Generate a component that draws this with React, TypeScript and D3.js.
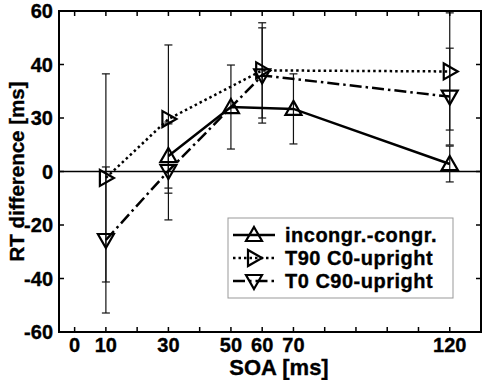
import { select, scaleLinear, line } from "d3";
import { useRef, useEffect } from "react";

// SOA values for each curve
const soaIncongr = [30, 50, 70, 120];
const soaT90 = [10, 30, 60, 120];
const soaT0 = [10, 30, 60, 120];

// mean RT difference and error bar half-length
const incongrMean = [5.8, 24.1, 23.4, 2.8];
const incongrErr = [12, 15.7, 13.1, 6.7];
const t90Mean = [-2.4, 19.6, 37.8, 37.4];
const t90Err = [38.9, 27.7, 17.8, 21.9];
const t0Mean = [-25.6, 0.2, 35.9, 28];
const t0Err = [27.3, 18.3, 17.8, 18.1];

const seriesNames = ["incongr.-congr.", "T90 C0-upright", "T0 C90-upright"];

const xTickValues = [0, 10, 20, 30, 40, 50, 60, 70, 80, 90, 100, 110, 120];
const xTickLabels = [0, 10, 30, 50, 60, 70, 120];
const yTickValues = [-60, -40, -20, 0, 20, 40, 60];
const yTickLabels = ["-60", "-40", "-20", "0", "30", "40", "60"];

const W = 484;
const H = 380;
const FONT = "Liberation Sans, Arial, sans-serif";

const triangles = {
  up: "M0,-8L8,6L-8,6Z",
  right: "M8,0L-6,-8L-6,8Z",
  down: "M0,8L8,-6L-8,-6Z",
};

// bold text with a hair of outline, the original glyphs look heavy
const boldText = (sel, size) =>
  sel
    .attr("font-family", FONT)
    .attr("font-weight", "bold")
    .attr("font-size", size)
    .attr("stroke", "#000")
    .attr("stroke-width", 0.35);

const App = () => {
  const svgRef = useRef(null);

  useEffect(() => {
    const svg = select(svgRef.current);
    svg.selectAll("*").remove();

    const x = scaleLinear().domain([-5, 130]).range([59, 481]);
    const y = scaleLinear().domain([-60, 60]).range([332, 11]);

    const series = [
      { name: seriesNames[0], xs: soaIncongr, ys: incongrMean, err: incongrErr, dash: null, marker: triangles.up },
      { name: seriesNames[1], xs: soaT90, ys: t90Mean, err: t90Err, dash: "2.5 3", marker: triangles.right },
      { name: seriesNames[2], xs: soaT0, ys: t0Mean, err: t0Err, dash: "12 4 2.5 4", marker: triangles.down },
    ];

    // zero line
    svg
      .append("line")
      .attr("x1", x(-5))
      .attr("x2", x(130))
      .attr("y1", y(0))
      .attr("y2", y(0))
      .attr("stroke", "#000")
      .attr("stroke-width", 1.5);

    // error bars
    series.forEach((s) => {
      const g = svg.append("g");
      s.xs.forEach((xv, i) => {
        const cx = x(xv);
        const top = y(s.ys[i] + s.err[i]);
        const bot = y(s.ys[i] - s.err[i]);
        g.append("line").attr("x1", cx).attr("x2", cx).attr("y1", top).attr("y2", bot).attr("stroke", "#111").attr("stroke-width", 1.2);
        [top, bot].forEach((yy) =>
          g.append("line").attr("x1", cx - 4).attr("x2", cx + 4).attr("y1", yy).attr("y2", yy).attr("stroke", "#111").attr("stroke-width", 1.2)
        );
      });
    });

    // lines + markers
    const lineGen = line()
      .x((d) => x(d[0]))
      .y((d) => y(d[1]));

    series.forEach((s) => {
      const pts = s.xs.map((xv, i) => [xv, s.ys[i]]);
      svg
        .append("path")
        .attr("d", lineGen(pts))
        .attr("fill", "none")
        .attr("stroke", "#000")
        .attr("stroke-width", 2.5)
        .attr("stroke-dasharray", s.dash);
      svg
        .selectAll(null)
        .data(pts)
        .join("path")
        .attr("d", s.marker)
        .attr("transform", (d) => `translate(${x(d[0])},${y(d[1])})`)
        .attr("fill", "none")
        .attr("stroke", "#000")
        .attr("stroke-width", 2.2);
    });

    // axes box
    svg
      .append("rect")
      .attr("x", 59)
      .attr("y", 11)
      .attr("width", 422)
      .attr("height", 321)
      .attr("fill", "none")
      .attr("stroke", "#000")
      .attr("stroke-width", 2);

    // ticks (inward, all four sides)
    xTickValues.forEach((t) => {
      svg.append("line").attr("x1", x(t)).attr("x2", x(t)).attr("y1", 332).attr("y2", 327).attr("stroke", "#000").attr("stroke-width", 1.5);
      svg.append("line").attr("x1", x(t)).attr("x2", x(t)).attr("y1", 11).attr("y2", 16).attr("stroke", "#000").attr("stroke-width", 1.5);
    });
    yTickValues.forEach((t) => {
      svg.append("line").attr("x1", 59).attr("x2", 64).attr("y1", y(t)).attr("y2", y(t)).attr("stroke", "#000").attr("stroke-width", 1.5);
      svg.append("line").attr("x1", 481).attr("x2", 476).attr("y1", y(t)).attr("y2", y(t)).attr("stroke", "#000").attr("stroke-width", 1.5);
    });

    // tick labels
    svg
      .selectAll(".xlab")
      .data(xTickLabels)
      .join("text")
      .attr("class", "xlab")
      .attr("x", (d) => x(d))
      .attr("y", 352)
      .attr("text-anchor", "middle")
      .call(boldText, 20)
      .text((d) => d);

    svg
      .selectAll(".ylab")
      .data(yTickValues)
      .join("text")
      .attr("class", "ylab")
      .attr("x", 53)
      .attr("y", (d) => y(d) + 7)
      .attr("text-anchor", "end")
      .call(boldText, 20)
      .text((d, i) => yTickLabels[i]);

    // axis titles
    svg
      .append("text")
      .attr("x", 279)
      .attr("y", 375)
      .attr("text-anchor", "middle")
      .call(boldText, 22)
      .text("SOA [ms]");

    svg
      .append("text")
      .attr("transform", `translate(24,${y(0)}) rotate(-90)`)
      .attr("text-anchor", "middle")
      .call(boldText, 20.5)
      .text("RT difference [ms]");

    // legend
    const lg = svg.append("g");
    lg.append("rect")
      .attr("x", 228)
      .attr("y", 218)
      .attr("width", 225)
      .attr("height", 80)
      .attr("fill", "#fff")
      .attr("stroke", "#999")
      .attr("stroke-width", 1);
    series.forEach((s, i) => {
      const ry = 235 + i * 23;
      lg.append("line")
        .attr("x1", 233)
        .attr("x2", 275)
        .attr("y1", ry)
        .attr("y2", ry)
        .attr("stroke", "#000")
        .attr("stroke-width", 2.5)
        .attr("stroke-dasharray", s.dash);
      lg.append("path")
        .attr("d", s.marker)
        .attr("transform", `translate(254,${ry})`)
        .attr("fill", "none")
        .attr("stroke", "#000")
        .attr("stroke-width", 2.2);
      lg.append("text")
        .attr("x", 285)
        .attr("y", ry + 7)
        .call(boldText, 20)
        .attr("letter-spacing", 0.5)
        .text(s.name);
    });
  }, []);

  return (
    <svg
      ref={svgRef}
      width={W}
      height={H}
      style={{ position: "absolute", left: 0, top: 0, background: "#fff" }}
    />
  );
};

export default App;
